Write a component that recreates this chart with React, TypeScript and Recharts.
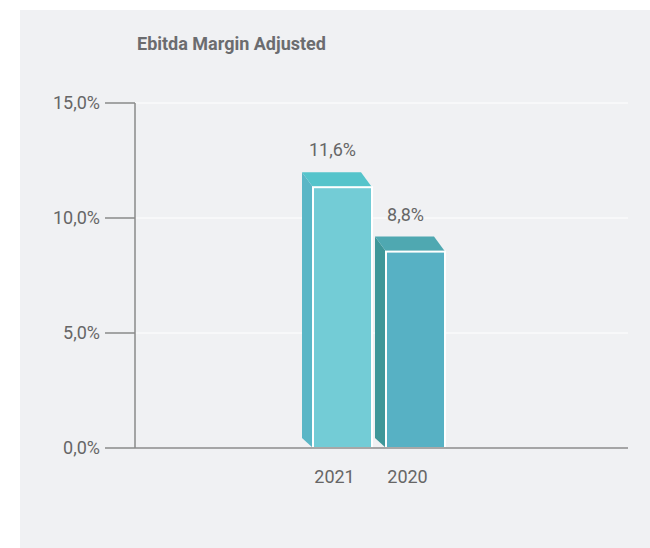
import { BarChart, Bar, XAxis, YAxis, CartesianGrid, LabelList } from 'recharts'

const years = ['2021', '2020']
const margins = [11.6, 8.8]
const yTicks = [0, 5, 10, 15]

const data = years.map((year, i) => ({ year, value: margins[i] }))

// front / side / top shades for each bar
const shades = [
  { front: '#73ccd6', side: '#5ab6c6', top: '#55c4cb' },
  { front: '#57b1c4', side: '#3f9799', top: '#4fa8b1' },
]

const DX = 11
const DY_TOP = 15
const DY_BOTTOM = 10
const SHIFT = 6 // front face sits a little below the value line

const fmt = (v: number) => `${v.toFixed(1).replace('.', ',')}%`

function Box3D(props: any) {
  const { x, width, index } = props
  const y = props.y + SHIFT
  const height = props.height - SHIFT
  const c = shades[index % shades.length]
  const bottom = y + height
  const side = `${x - DX},${y - DY_TOP} ${x},${y} ${x},${bottom} ${x - DX},${bottom - DY_BOTTOM}`
  const top = `${x - DX},${y - DY_TOP} ${x + width - DX},${y - DY_TOP} ${x + width},${y} ${x},${y}`
  return (
    <g>
      <polygon points={side} fill={c.side} />
      <polygon points={top} fill={c.top} />
      <rect x={x} y={y} width={width} height={height} fill={c.front} stroke="#ffffff" strokeWidth={2} />
    </g>
  )
}

function ValueLabel(props: any) {
  const { x, y, width, value } = props
  return (
    <text x={x + width / 2 - 10} y={y + SHIFT - 31} textAnchor="middle" fill="#666666" fontSize={18}>
      {fmt(value)}
    </text>
  )
}

function YearTick(props: any) {
  const { x, y, payload } = props
  return (
    <text x={x - 8} y={y + 27} textAnchor="middle" fill="#666666" fontSize={18}>
      {payload.value}
    </text>
  )
}

export default function App() {
  return (
    <div
      style={{
        position: 'absolute',
        left: 20,
        top: 10,
        width: 630,
        height: 538,
        background: '#f0f1f3',
        fontFamily: 'Roboto, sans-serif',
      }}
    >
      <div
        style={{
          position: 'absolute',
          left: 117,
          top: 23,
          fontSize: 18,
          fontWeight: 700,
          color: '#6b6c6f',
        }}
      >
        Ebitda Margin Adjusted
      </div>
      <BarChart
        width={630}
        height={538}
        data={data}
        margin={{ top: 93, right: 22, bottom: 70, left: 0 }}
        style={{ position: 'absolute', left: 0, top: 0 }}
      >
        <CartesianGrid vertical={false} stroke="#ffffff" strokeWidth={1} />
        <XAxis
          dataKey="year"
          height={30}
          padding={{ left: 171, right: 176 }}
          tickLine={false}
          axisLine={{ stroke: '#8a8a8a', strokeWidth: 1.5 }}
          tick={<YearTick />}
        />
        <YAxis
          width={115}
          domain={[0, 15]}
          ticks={yTicks}
          tickFormatter={fmt}
          tickSize={30}
          tickMargin={5}
          axisLine={{ stroke: '#8a8a8a', strokeWidth: 1.5 }}
          tickLine={{ stroke: '#8a8a8a', strokeWidth: 1.5 }}
          tick={{ fill: '#666666', fontSize: 18 }}
        />
        <Bar dataKey="value" barSize={59} shape={<Box3D />} isAnimationActive={false}>
          <LabelList dataKey="value" content={<ValueLabel />} />
        </Bar>
      </BarChart>
    </div>
  )
}
